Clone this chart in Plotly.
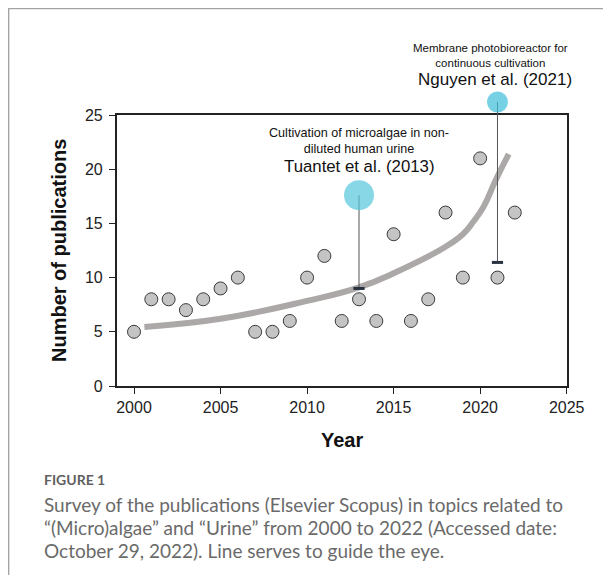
import plotly.graph_objects as go

# The page body keeps its default 8px margin; the figure fills the rest of the 611x583 window.
PAGE_W, PAGE_H, BODY_MARGIN = 611, 583, 8
W, H = PAGE_W - 2 * BODY_MARGIN, PAGE_H - 2 * BODY_MARGIN

years = [2000, 2001, 2002, 2003, 2004, 2005, 2006, 2007, 2008, 2009, 2010, 2011,
         2012, 2013, 2014, 2015, 2016, 2017, 2018, 2019, 2020, 2021, 2022]
publications = [5, 8, 8, 7, 8, 9, 10, 5, 5, 6, 10, 12,
                6, 8, 6, 14, 6, 8, 16, 10, 21, 10, 16]

trend_x = [2000.6, 2005, 2010, 2013, 2015, 2018, 2019, 2019.6, 2020.2, 2020.9, 2021.65]
trend_y = [5.45, 6.2, 7.85, 9.1, 10.4, 12.85, 14.0, 15.15, 16.55, 19.0, 21.4]

milestone_years = [2013, 2021]
milestone_base = [9.0, 11.4]
milestone_top = [17.6, 26.2]
milestone_size = [30, 21]
milestone_color = ["#55c6dc", "#3dbdd9"]
milestone_desc = ["Cultivation of microalgae in non-<br>diluted human urine",
                  "Membrane photobioreactor for<br>continuous cultivation"]
milestone_ref = ["Tuantet et al. (2013)", "Nguyen et al. (2021)"]

x_ticks = [2000, 2005, 2010, 2015, 2020, 2025]
y_ticks = [0, 5, 10, 15, 20, 25]
y_max = 25

caption_label = "FIGURE 1"
caption_lines = [
    "Survey of the publications (Elsevier Scopus) in topics related to",
    "\u201c(Micro)algae\u201d and \u201cUrine\u201d from 2000 to 2022 (Accessed date:",
    "October 29, 2022). Line serves to guide the eye.",
]


def xp(px):
    """page pixel x -> paper fraction"""
    return (px - BODY_MARGIN) / W


def yp(py):
    """page pixel y -> paper fraction"""
    return 1 - (py - BODY_MARGIN) / H


# plot box in page pixels
BOX_L, BOX_R, BOX_T, BOX_B = 116.7, 566.7, 115, 386
EXT_T = 88  # top of the extended (invisible) axis used for the milestone markers
y2_max = y_max * (BOX_B - EXT_T) / (BOX_B - BOX_T)

fig = go.Figure()

# trend line
fig.add_trace(go.Scatter(x=trend_x, y=trend_y, mode="lines",
                         line=dict(color="#aca8a8", width=6, shape="spline", smoothing=1.3),
                         hoverinfo="skip"))

# data points
fig.add_trace(go.Scatter(x=years, y=publications, mode="markers",
                         marker=dict(size=13, color="#c4c4c4",
                                     line=dict(color="#3a3a3a", width=1)),
                         cliponaxis=False))

# stems (on extended axis)
for i in range(len(milestone_years)):
    fig.add_trace(go.Scatter(x=[milestone_years[i], milestone_years[i]],
                             y=[milestone_base[i], milestone_top[i]], mode="lines",
                             line=dict(color="#555555", width=1), hoverinfo="skip",
                             yaxis="y2"))

# stem base marks
fig.add_trace(go.Scatter(x=milestone_years, y=milestone_base, mode="markers",
                         marker=dict(symbol="line-ew", size=8, color="#27313f",
                                     line=dict(color="#27313f", width=3)),
                         yaxis="y2", hoverinfo="skip"))

# milestone circles
fig.add_trace(go.Scatter(x=milestone_years, y=milestone_top, mode="markers",
                         marker=dict(size=milestone_size, color=milestone_color,
                                     line=dict(width=0)),
                         yaxis="y2", hoverinfo="skip"))

shapes = []
# figure frame
shapes.append(dict(type="line", xref="paper", yref="paper", x0=xp(8), x1=1,
                   y0=yp(8.6), y1=yp(8.6), line=dict(color="#a3a3a3", width=1.5)))
shapes.append(dict(type="line", xref="paper", yref="paper", x0=xp(8.6), x1=xp(8.6),
                   y0=yp(8), y1=0, line=dict(color="#a3a3a3", width=1.5)))

annotations = []
# milestone texts
desc_pos = [(359, 141, 12.6), (490, 55, 11.5)]
ref_pos = [(359.5, 166, 16.8), (495, 79, 17)]
for i in range(len(milestone_years)):
    cx, cy, fs = desc_pos[i]
    annotations.append(dict(x=xp(cx), y=yp(cy), xref="paper", yref="paper",
                            text=milestone_desc[i], showarrow=False,
                            xanchor="center", yanchor="middle", align="center",
                            font=dict(family="Liberation Sans", size=fs, color="#111111")))
    cx, cy, fs = ref_pos[i]
    annotations.append(dict(x=xp(cx), y=yp(cy), xref="paper", yref="paper",
                            text=milestone_ref[i], showarrow=False,
                            xanchor="center", yanchor="middle",
                            font=dict(family="Liberation Sans", size=fs, color="#111111")))

# axis titles
annotations.append(dict(x=xp(59), y=yp(251), xref="paper", yref="paper",
                        text="<b>Number of publications</b>", showarrow=False, textangle=-90,
                        xanchor="center", yanchor="middle",
                        font=dict(family="Liberation Sans", size=20, color="#111111")))
annotations.append(dict(x=xp(341.5), y=yp(440), xref="paper", yref="paper",
                        text="<b>Year</b>", showarrow=False,
                        xanchor="center", yanchor="middle",
                        font=dict(family="Liberation Sans", size=20, color="#111111")))

# caption
annotations.append(dict(x=xp(42), y=yp(479), xref="paper", yref="paper",
                        text="<b>" + caption_label + "</b>", showarrow=False,
                        xanchor="left", yanchor="middle",
                        font=dict(family="Lato", size=14, color="#5f5f5f")))
for j, line in enumerate(caption_lines):
    annotations.append(dict(x=xp(42), y=yp(504 + 23 * j), xref="paper", yref="paper",
                            text=line, showarrow=False,
                            xanchor="left", yanchor="middle",
                            font=dict(family="Lato", size=19, color="#6a6a6a")))

fig.update_layout(
    template="none",
    width=W, height=H, autosize=False,
    margin=dict(l=0, r=0, t=0, b=0, pad=0),
    paper_bgcolor="white", plot_bgcolor="rgba(0,0,0,0)",
    showlegend=False,
    shapes=shapes, annotations=annotations,
    xaxis=dict(domain=[xp(BOX_L), xp(BOX_R)], range=[1999, 2025], anchor="y",
               automargin=False,
               tickvals=x_ticks, ticktext=[str(v) for v in x_ticks],
               ticks="outside", ticklen=6, tickwidth=1, tickcolor="#222",
               showline=True, linecolor="#222", linewidth=1.5, mirror=True,
               showgrid=False, zeroline=False,
               tickfont=dict(family="Liberation Sans", size=16, color="#222")),
    yaxis=dict(domain=[yp(BOX_B), yp(BOX_T)], range=[0, y_max], anchor="x",
               automargin=False,
               tickvals=y_ticks, ticktext=[str(v) for v in y_ticks],
               ticks="outside", ticklen=6, tickwidth=1, tickcolor="#222",
               showline=True, linecolor="#222", linewidth=1.5, mirror=True,
               showgrid=False, zeroline=False, ticklabelstandoff=3,
               tickfont=dict(family="Liberation Sans", size=16, color="#222")),
    yaxis2=dict(domain=[yp(BOX_B), yp(EXT_T)], range=[0, y2_max], anchor="x",
                automargin=False, visible=False, showgrid=False, zeroline=False),
)

fig.write_html("out.html", config={"displayModeBar": False})
